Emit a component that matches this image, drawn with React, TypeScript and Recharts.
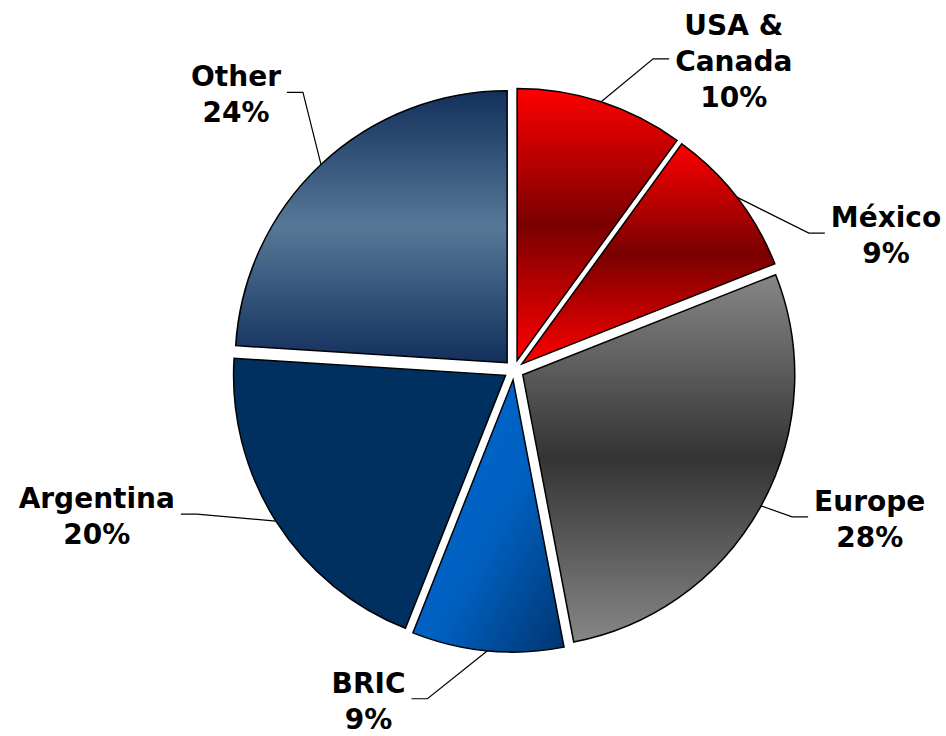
import React from "react";
import { PieChart, Pie, Cell } from "recharts";

const regions = ["USA & Canada", "México", "Europe", "BRIC", "Argentina", "Other"];
const shares = [10, 9, 28, 9, 20, 24];

const fills = ["url(#gRed)", "url(#gRed)", "url(#gGray)", "url(#gBric)", "#00305f", "url(#gOther)"];
// bend of each leader line (from the slice edge to the elbow), px
const leaderBend = [
  [52, -43],
  [72, 36],
  [31, 11],
  [-60, 48],
  [-79, -7],
  [-18, -72],
];

const data = regions.map((name, i) => ({ name, value: shares[i] }));
const total = shares.reduce((a, b) => a + b, 0);

const W = 946;
const H = 736;
const CX = 514;
const CY = 370;
const R = 272;
const EXPLODE = 10;
const RAD = Math.PI / 180;
const FONT = "'DejaVu Sans', Verdana, sans-serif";
const FS = 28;

let ctx: CanvasRenderingContext2D | null = null;
function textWidth(s: string) {
  if (!ctx) {
    ctx = document.createElement("canvas").getContext("2d");
  }
  if (!ctx) return s.length * 18.5;
  ctx.font = `bold ${FS}px ${FONT}`;
  return ctx.measureText(s).width;
}

function midAngles() {
  let acc = 0;
  return shares.map((v) => {
    const m = 90 - (360 * (acc + v / 2)) / total;
    acc += v;
    return m;
  });
}

function renderLabel(p: any, k: number) {
  const ex = p.cx + p.outerRadius * Math.cos(-p.midAngle * RAD);
  const ey = p.cy + p.outerRadius * Math.sin(-p.midAngle * RAD);
  const [bx, by] = leaderBend[k];
  const side = bx >= 0 ? 1 : -1;
  const elx = ex + bx;
  const ely = ey + by;
  const endx = elx + side * 16;
  const name = regions[k].replace("& ", "&\n");
  const lines = [...name.split("\n"), `${shares[k]}%`];
  const w = Math.max(...lines.map(textWidth));
  const tx = endx + side * (6 + w / 2);
  const lh = 36;
  const firstCenter = ely + 2 - ((lines.length - 1) * lh) / 2;
  return (
    <g key={`lab-${k}`}>
      <polyline points={`${ex},${ey} ${elx},${ely} ${endx},${ely}`} fill="none" stroke="#000" strokeWidth={1.2} />
      <text x={tx} textAnchor="middle" fontFamily={FONT} fontWeight="bold" fontSize={FS} fill="#000">
        {lines.map((l, j) => (
          <tspan key={j} x={tx} y={firstCenter + j * lh + 10}>
            {l}
          </tspan>
        ))}
      </text>
    </g>
  );
}

export default function App() {
  const mids = midAngles();
  return (
    <div style={{ position: "absolute", left: 0, top: 0, width: W, height: H, background: "#fff" }}>
      <PieChart width={W} height={H} margin={{ top: 0, right: 0, bottom: 0, left: 0 }}>
        <defs>
          <linearGradient id="gRed" x1="0" y1="0" x2="0" y2="1">
            <stop offset="0" stopColor="#ff0000" />
            <stop offset="0.5" stopColor="#7a0000" />
            <stop offset="1" stopColor="#ff0000" />
          </linearGradient>
          <linearGradient id="gGray" x1="0" y1="0" x2="0" y2="1">
            <stop offset="0" stopColor="#868686" />
            <stop offset="0.5" stopColor="#343434" />
            <stop offset="1" stopColor="#868686" />
          </linearGradient>
          <linearGradient id="gOther" x1="0" y1="0" x2="0" y2="1">
            <stop offset="0" stopColor="#12305c" />
            <stop offset="0.5" stopColor="#587898" />
            <stop offset="1" stopColor="#12305c" />
          </linearGradient>
          <linearGradient id="gBric" x1="0" y1="0" x2="1" y2="1">
            <stop offset="0" stopColor="#0068cf" />
            <stop offset="0.55" stopColor="#0060c0" />
            <stop offset="1" stopColor="#00356f" />
          </linearGradient>
        </defs>
        {regions.map((_, k) => (
          <Pie
            key={k}
            data={data}
            dataKey="value"
            nameKey="name"
            cx={CX + EXPLODE * Math.cos(mids[k] * RAD)}
            cy={CY - EXPLODE * Math.sin(mids[k] * RAD)}
            outerRadius={R}
            startAngle={90}
            endAngle={-270}
            isAnimationActive={false}
            labelLine={false}
            label={(p: any) => (p.index === k ? renderLabel(p, k) : null)}
          >
            {data.map((_, i) => (
              <Cell
                key={i}
                fill={i === k ? fills[i] : "none"}
                stroke={i === k ? "#000" : "none"}
                strokeWidth={i === k ? 1.5 : 0}
              />
            ))}
          </Pie>
        ))}
      </PieChart>
    </div>
  );
}
